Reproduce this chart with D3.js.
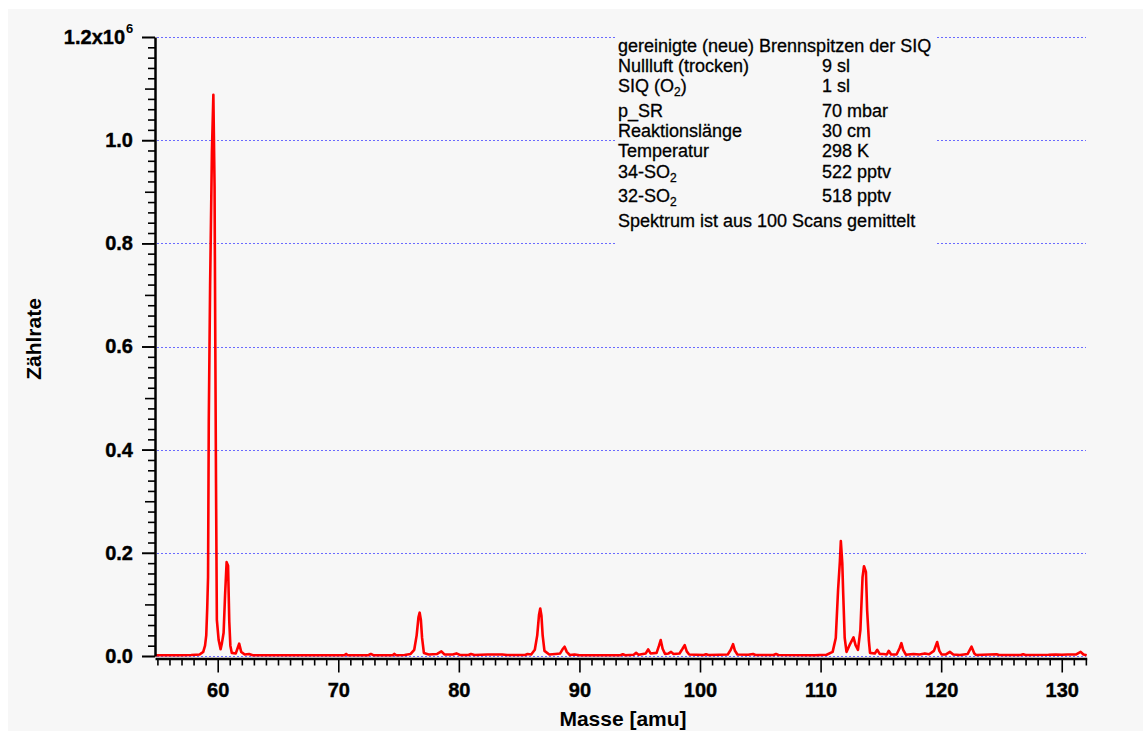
<!DOCTYPE html>
<html>
<head>
<meta charset="utf-8">
<script src="https://cdn.jsdelivr.net/npm/d3@7"></script>
<style>
  html, body { margin: 0; padding: 0; background: #fff; }
  svg { display: block; font-family: Arial, "Liberation Sans", sans-serif; }
</style>
</head>
<body>
<svg id="canvas" width="1143" height="731"></svg>
<script>
// spectrum (mass in amu, counts)
var masses = [54.8, 56.0, 57.0, 57.8, 58.2, 58.5, 58.8, 58.95, 59.05, 59.13, 59.2, 59.26, 59.37, 59.52, 59.64, 59.74, 59.8, 59.86, 59.93, 60.08,
  60.24, 60.35, 60.49, 60.61, 60.74, 60.86, 60.96, 61.05, 61.17, 61.5, 61.65, 61.78, 61.95, 62.24, 62.6, 62.9,
  66.0, 70.5, 70.65, 70.8, 72.5, 72.7, 72.9, 74.5, 74.66, 74.8, 75.5, 76.0, 76.3, 76.5, 76.65, 76.75, 76.85, 76.95, 77.1, 77.5,
  78.2, 78.55, 78.8, 79.5, 79.8, 80.1, 80.8, 81.0, 81.3, 82.4, 83.6, 84.0, 85.5, 85.7, 86.0, 86.3, 86.5, 86.65, 86.75, 86.85,
  86.95, 87.1, 87.5, 88.0, 88.4, 88.6, 88.77, 88.95, 89.2, 89.6, 90.0, 93.4, 93.6, 93.8, 94.5, 94.7, 94.9, 95.5, 95.7, 95.9,
  96.4, 96.6, 96.74, 96.9, 97.1, 97.4, 97.6, 97.8, 98.3, 98.55, 98.73, 98.9, 99.1, 100.3, 100.5, 100.7, 101.6, 102.3, 102.55, 102.74,
  102.9, 103.1, 104.0, 104.4, 104.6, 106.1, 106.3, 106.5, 109.5, 110.5, 111.0, 111.26, 111.45, 111.6, 111.68, 111.8, 111.87, 112.0, 112.15, 112.4,
  112.73, 112.9, 113.1, 113.3, 113.48, 113.6, 113.76, 113.86, 114.0, 114.1, 114.5, 114.7, 114.9, 115.2, 115.5, 115.65, 115.85, 116.3, 116.55, 116.7,
  116.85, 117.07, 117.7, 118.2, 118.65, 119.0, 119.4, 119.67, 119.85, 120.03, 120.4, 120.72, 121.0, 121.55, 122.2, 122.52, 122.75, 122.9, 124.6, 124.8,
  126.6, 126.8, 127.0, 128.9, 129.5, 130.0, 130.5, 131.2, 131.57, 131.8, 132.07];

var counts = [1500, 1500, 1500, 2000, 2500, 3000, 8000, 20000, 40000, 92000, 153000, 455000, 718000, 977000, 1088000, 909000, 610000, 335000, 70000, 31000,
  13000, 25000, 45000, 117000, 182000, 175000, 67000, 20000, 6000, 5000, 15000, 24000, 8000, 3000, 4000, 1500,
  1500, 1500, 4000, 1500, 1500, 4000, 1500, 1500, 4000, 1500, 2000, 4000, 12000, 40000, 75000, 84000, 70000, 35000, 6000, 3000,
  4000, 9000, 3000, 3000, 5000, 2000, 2000, 4000, 2000, 3000, 3000, 2000, 2000, 4000, 3000, 12000, 40000, 80000, 92000, 78000,
  40000, 10000, 3000, 4000, 5000, 13000, 18000, 8000, 2000, 3000, 1500, 1500, 3500, 1500, 2500, 6000, 2500, 5000, 13000, 5000,
  6000, 20000, 31000, 14000, 4000, 5000, 8000, 4000, 5000, 14000, 21000, 9000, 3000, 2000, 3500, 2000, 2500, 3000, 12000, 23000,
  10000, 3000, 2500, 4000, 2000, 2000, 4000, 2000, 1500, 2500, 8000, 35000, 128000, 183000, 223000, 180000, 125000, 35000, 8000, 21000,
  36000, 21000, 12000, 50000, 153000, 174000, 163000, 89000, 31000, 6000, 5000, 12000, 4000, 4000, 3000, 10000, 3000, 3000, 15000, 25000,
  12000, 2500, 4000, 3000, 5000, 3500, 10000, 27000, 10000, 3000, 3000, 8000, 3000, 2000, 4000, 18000, 5000, 2000, 3500, 2000,
  2000, 3500, 2000, 2500, 3000, 2500, 3000, 3000, 8000, 3000, 1500];

var xTicks = [60, 70, 80, 90, 100, 110, 120, 130];
var yTicks = [0, 200000, 400000, 600000, 800000, 1000000, 1200000];

// annotation block: [label, label subscript, label tail, value, baseline]
var notesTitle = "gereinigte (neue) Brennspitzen der SIQ";
var notes = [
  ["Nullluft (trocken)", "", "", "9 sl", 72],
  ["SIQ (O", "2", ")", "1 sl", 92],
  ["p_SR", "", "", "70 mbar", 117],
  ["Reaktionslänge", "", "", "30 cm", 137],
  ["Temperatur", "", "", "298 K", 157],
  ["34-SO", "2", "", "522 pptv", 178],
  ["32-SO", "2", "", "518 pptv", 202]
];
var notesFooter = "Spektrum ist aus 100 Scans gemittelt";

var svg = d3.select('#canvas');

svg.append('rect')
  .attr('x', 8).attr('y', 9)
  .attr('width', 1135).attr('height', 722)
  .attr('fill', '#f7f7f7');

var x = d3.scaleLinear().domain([54.8, 132.07]).range([155, 1086.7]);
var y = d3.scaleLinear().domain([0, 1200000]).range([656, 37]);

// dotted grid
svg.append('g')
  .selectAll('line')
  .data(yTicks)
  .enter()
  .append('line')
  .attr('x1', 157).attr('x2', 1086)
  .attr('y1', function(d) { return Math.round(y(d)) + 0.5; })
  .attr('y2', function(d) { return Math.round(y(d)) + 0.5; })
  .attr('stroke', '#6a6aff')
  .attr('stroke-width', 1)
  .attr('stroke-dasharray', '2,2');

// text box hides the grid behind it
svg.append('rect')
  .attr('x', 617).attr('y', 30)
  .attr('width', 320).attr('height', 217)
  .attr('fill', '#f7f7f7');

var note = svg.append('g')
  .attr('font-size', 18)
  .attr('fill', '#000')
  .attr('stroke', '#000')
  .attr('stroke-width', 0.3);

note.append('text').attr('x', 618).attr('y', 52).text(notesTitle);

notes.forEach(function(n) {
  var t = note.append('text').attr('x', 618).attr('y', n[4]);
  t.append('tspan').text(n[0]);
  if (n[1]) {
    t.append('tspan').attr('font-size', 12).attr('dy', 4).text(n[1]);
    if (n[2]) t.append('tspan').attr('dy', -4).text(n[2]);
  }
  note.append('text').attr('x', 822).attr('y', n[4]).text(n[3]);
});

note.append('text').attr('x', 618).attr('y', 227).text(notesFooter);

// spectrum
var line = d3.line()
  .x(function(d, i) { return x(masses[i]); })
  .y(function(d) { return y(d); });

svg.append('path')
  .datum(counts)
  .attr('d', line)
  .attr('fill', 'none')
  .attr('stroke', '#ff0000')
  .attr('stroke-width', 2.6)
  .attr('stroke-linejoin', 'round');

// y axis
var yAxis = svg.append('g')
  .attr('transform', 'translate(155,0)')
  .call(d3.axisLeft(y).tickValues(d3.range(0, 1200001, 20000)).tickSize(7).tickSizeOuter(0).tickFormat(''));
yAxis.selectAll('.tick line')
  .attr('x2', function(d) { return (d % 200000 === 0) ? -13 : (d % 100000 === 0 ? -10 : -7); });

var yLabels = svg.append('g')
  .attr('transform', 'translate(155,0)')
  .call(d3.axisLeft(y).tickValues(yTicks).tickSize(13).tickPadding(9)
    .tickFormat(function(d) { return d === 1200000 ? '' : d3.format('.1f')(d / 1e6); }));
yLabels.select('.domain').remove();

svg.append('text')
  .attr('x', 125).attr('y', 44)
  .attr('text-anchor', 'end')
  .attr('font-size', 20).attr('font-weight', 'bold')
  .attr('stroke', '#000').attr('stroke-width', 0.4)
  .text('1.2x10');
svg.append('text')
  .attr('x', 126).attr('y', 33)
  .attr('font-size', 13).attr('font-weight', 'bold')
  .text('6');

// x axis
var xAxis = svg.append('g')
  .attr('transform', 'translate(0,658.5)')
  .call(d3.axisBottom(x).tickValues(d3.range(55, 133, 1)).tickSize(7).tickSizeOuter(0).tickFormat(''));
xAxis.selectAll('.tick line')
  .attr('y2', function(d) { return d % 10 === 0 ? 14 : 7; });

var xLabels = svg.append('g')
  .attr('transform', 'translate(0,658.5)')
  .call(d3.axisBottom(x).tickValues(xTicks).tickSize(0).tickPadding(24).tickFormat(d3.format('d')));
xLabels.select('.domain').remove();

svg.selectAll('.domain')
  .attr('stroke', '#000')
  .attr('stroke-width', 2.5);
svg.selectAll('.tick line')
  .attr('stroke', '#000')
  .attr('stroke-width', 1.6);
svg.selectAll('.tick text')
  .attr('font-family', 'Arial, "Liberation Sans", sans-serif')
  .attr('font-size', 20)
  .attr('font-weight', 'bold')
  .attr('fill', '#000')
  .attr('stroke', '#000')
  .attr('stroke-width', 0.4);

// axis titles
svg.append('text')
  .attr('transform', 'translate(41,339) rotate(-90)')
  .attr('text-anchor', 'middle')
  .attr('font-size', 21).attr('font-weight', 'bold')
  .text('Zählrate');

svg.append('text')
  .attr('x', 623).attr('y', 726)
  .attr('text-anchor', 'middle')
  .attr('font-size', 21).attr('font-weight', 'bold')
  .text('Masse [amu]');
</script>
</body>
</html>
